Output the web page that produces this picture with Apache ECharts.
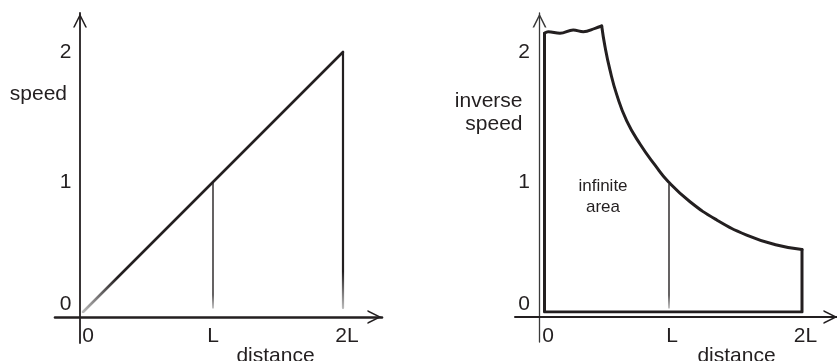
<!DOCTYPE html>
<html>
<head>
<meta charset="utf-8">
<title>speed and inverse speed</title>
<script src="https://cdn.jsdelivr.net/npm/echarts@6.0.0/dist/echarts.min.js"></script>
<style>
  html, body { margin: 0; padding: 0; background: #fff; }
  #main { width: 837px; height: 361px; }
</style>
</head>
<body>
<div id="main"></div>
<script>
// distance is measured in units of L
const distanceTicks = [0, 1, 2];
const distanceLabels = ['0', 'L', '2L'];
const valueTicks = [0, 1, 2];
const valueLabels = ['0', '1', '2'];

// left sketch: speed grows linearly with distance
const speedLine = [[0, 0], [1, 1], [2, 2]];
const speedDropL = [[1, 0.03], [1, 1]];
const speedDrop2L = [[2, 0.03], [2, 2]];

// right sketch: inverse speed
const inverseSides = [[2.0, 0.48], [2.0, 0], [0.064, 0], [0.064, 2.144]];
const inverseTop = [[0.064, 2.144], [0.092, 2.156], [0.18, 2.144], [0.28, 2.169], [0.356, 2.156], [0.444, 2.182], [0.494, 2.2]];
const inverseCurve = [[0.494, 2.2], [0.519, 2.04], [0.556, 1.862], [0.607, 1.672], [0.682, 1.47], [0.782, 1.292],
  [0.895, 1.13], [0.995, 1.002], [1.158, 0.848], [1.359, 0.708], [1.584, 0.592], [1.81, 0.515], [2.0, 0.48]];
const inverseDropL = [[1, 0.03], [1, 0.98]];

const ink = '#231f20';
const font = '"Liberation Sans", Arial, Helvetica, sans-serif';
const chevron = 'path://M50,0 L100,100 L88,100 L50,24 L12,100 L0,100 Z';

const myChart = echarts.init(document.getElementById('main'), null, { renderer: 'canvas' });

const txt = { fontSize: 21, fontFamily: font, color: ink };

function xLabels(pads) {
  return {
    customValues: distanceTicks,
    margin: 14,
    formatter: function (v) {
      const i = distanceTicks.indexOf(v);
      return '{t' + i + '|' + distanceLabels[i] + '}';
    },
    rich: {
      t0: Object.assign({}, txt, { padding: [0, 0, 0, pads[0]] }),
      t1: Object.assign({}, txt, { padding: [0, 0, 0, pads[1]] }),
      t2: Object.assign({}, txt, { padding: [0, 0, 0, pads[2]] })
    }
  };
}

function yLabels(margin) {
  return {
    customValues: valueTicks,
    margin: margin,
    formatter: function (v) {
      const i = valueTicks.indexOf(v);
      return (v === 0 ? '{z|' : '{n|') + valueLabels[i] + '}';
    },
    rich: {
      z: Object.assign({}, txt, { padding: [0, 0, 15, 0] }),
      n: Object.assign({}, txt)
    }
  };
}

function dataX(grid, pads, namePad) {
  return {
    type: 'value', gridIndex: grid, min: 0, max: 2,
    axisLine: { show: false }, axisTick: { show: false }, splitLine: { show: false },
    axisLabel: xLabels(pads),
    name: 'distance', nameLocation: 'middle', nameGap: 34, nameMoveOverlap: false,
    nameTextStyle: Object.assign({}, txt, { padding: [0, 0, 0, namePad] })
  };
}

function dataY(grid, margin) {
  return {
    type: 'value', gridIndex: grid, min: 0, max: 2.3,
    axisLine: { show: false }, axisTick: { show: false }, splitLine: { show: false },
    axisLabel: yLabels(margin)
  };
}

// hand-drawn axes with open arrow heads, crossing past the origin
function arrowAxis(grid, min, max, width, color) {
  return {
    type: 'value', gridIndex: grid, min: min, max: max,
    axisLine: {
      onZero: true,
      symbol: ['none', chevron],
      symbolSize: [14, 15],
      symbolOffset: [0, -7.5],
      lineStyle: { color: color, width: width, cap: 'round' }
    },
    axisTick: { show: false }, axisLabel: { show: false }, splitLine: { show: false }
  };
}

function fade(x, y, x2, y2, at) {
  return new echarts.graphic.LinearGradient(x, y, x2, y2, [
    { offset: 0, color: '#c4c4c4' },
    { offset: at, color: ink },
    { offset: 1, color: ink }
  ]);
}

function line(x, y, data, width, color, smooth) {
  return {
    type: 'line', xAxisIndex: x, yAxisIndex: y, data: data,
    showSymbol: false, smooth: smooth || false, silent: true,
    lineStyle: { width: width, color: color, cap: 'round', join: 'round' }
  };
}

function note(text, x, y, size, lh, align) {
  return {
    type: 'text', x: x, y: y, silent: true,
    style: {
      text: text, font: size + 'px ' + font, fill: ink, lineHeight: lh,
      align: align, verticalAlign: 'middle', textAlign: align, textVerticalAlign: 'middle'
    }
  };
}

const option = {
  animation: false,
  backgroundColor: '#fff',
  grid: [
    { left: 83, top: 13, width: 260, height: 299, outerBoundsMode: 'none' },
    { left: 55, top: 13, width: 327, height: 330, outerBoundsMode: 'none' },
    { left: 536, top: 13, width: 266, height: 299, outerBoundsMode: 'none' },
    { left: 515, top: 13, width: 323, height: 329, outerBoundsMode: 'none' }
  ],
  xAxis: [
    dataX(0, [10, 0, 8], 125),
    arrowAxis(1, -25 / 130, 302 / 130, 2.6, ink),
    dataX(2, [24, 6, 7], 135),
    arrowAxis(3, -24.5 / 130, 298.5 / 130, 2, ink)
  ],
  yAxis: [
    dataY(0, 11.5),
    arrowAxis(1, -26 / 130, 304 / 130, 1.8, ink),
    dataY(2, 6),
    arrowAxis(3, -25 / 130, 304 / 130, 1.3, '#3a3a3a')
  ],
  graphic: [
    note('speed', 67, 94.4, 21, 23, 'right'),
    note('inverse\nspeed', 522.5, 112.4, 21, 23, 'right'),
    note('infinite\narea', 603, 196.6, 17, 21, 'center')
  ],
  series: [
    line(0, 0, speedLine, 2.6, fade(0, 1, 1, 0, 0.14)),
    line(0, 0, speedDropL, 1.4, fade(0, 1, 0, 0, 0.12)),
    line(0, 0, speedDrop2L, 2.2, fade(0, 1, 0, 0, 0.15)),
    line(2, 2, inverseSides, 3, ink),
    line(2, 2, inverseTop, 3, ink, 0.4),
    line(2, 2, inverseCurve, 3, ink, 0.5),
    line(2, 2, inverseDropL, 1.4, fade(0, 1, 0, 0, 0.12))
  ]
};

myChart.setOption(option);
</script>
</body>
</html>
